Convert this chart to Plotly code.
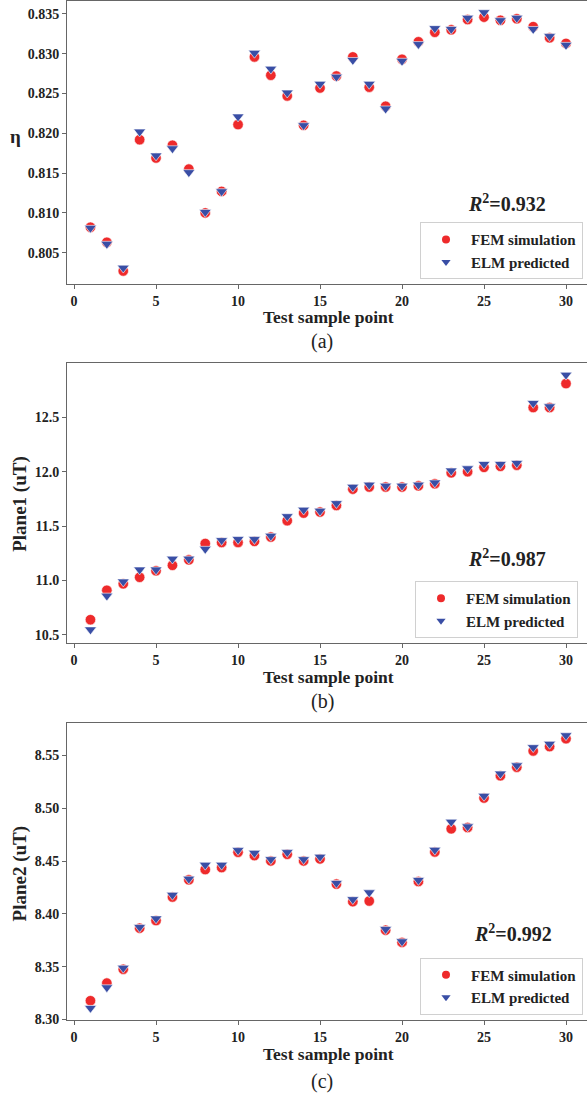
import plotly.graph_objects as go

# ---------------- data ----------------
sample = list(range(1, 31))

eta_fem = [0.8082, 0.8063, 0.8027, 0.8192, 0.8169, 0.8185, 0.8155, 0.8100, 0.8127, 0.8211,
           0.8296, 0.8273, 0.8247, 0.8210, 0.8257, 0.8272, 0.8296, 0.8258, 0.8234, 0.8293,
           0.8315, 0.8327, 0.8330, 0.8343, 0.8346, 0.8342, 0.8344, 0.8334, 0.8320, 0.8313]
eta_elm = [0.8081, 0.8061, 0.8031, 0.8202, 0.8172, 0.8181, 0.8151, 0.8101, 0.8127, 0.8221,
           0.8301, 0.8281, 0.8251, 0.8210, 0.8262, 0.8271, 0.8292, 0.8262, 0.8231, 0.8291,
           0.8312, 0.8332, 0.8331, 0.8345, 0.8352, 0.8342, 0.8345, 0.8331, 0.8322, 0.8311]

p1_fem = [10.64, 10.91, 10.97, 11.03, 11.09, 11.14, 11.19, 11.34, 11.35, 11.35,
          11.36, 11.40, 11.55, 11.62, 11.63, 11.69, 11.84, 11.86, 11.86, 11.86,
          11.87, 11.89, 11.99, 12.00, 12.04, 12.05, 12.06, 12.59, 12.59, 12.81]
p1_elm = [10.55, 10.86, 10.99, 11.10, 11.10, 11.20, 11.20, 11.29, 11.37, 11.38,
          11.38, 11.41, 11.59, 11.65, 11.64, 11.71, 11.86, 11.88, 11.87, 11.87,
          11.88, 11.90, 12.01, 12.03, 12.07, 12.07, 12.08, 12.63, 12.60, 12.89]

p2_fem = [8.3177, 8.3344, 8.3476, 8.3865, 8.3937, 8.4160, 8.4323, 8.4420, 8.4439, 8.4584,
          8.4552, 8.4502, 8.4565, 8.4502, 8.4521, 8.4282, 8.4116, 8.4122, 8.3846, 8.3730,
          8.4307, 8.4587, 8.4806, 8.4819, 8.5098, 8.5309, 8.5390, 8.5544, 8.5585, 8.5660]
p2_elm = [8.3108, 8.3303, 8.3488, 8.3874, 8.3956, 8.4179, 8.4332, 8.4464, 8.4464, 8.4603,
          8.4577, 8.4517, 8.4584, 8.4517, 8.4540, 8.4292, 8.4138, 8.4203, 8.3855, 8.3739,
          8.4320, 8.4606, 8.4872, 8.4828, 8.5117, 8.5328, 8.5406, 8.5578, 8.5610, 8.5691]

r2_values = ["0.932", "0.987", "0.992"]
y_titles = ["η", "Plane1 (uT)", "Plane2 (uT)"]
panel_labels = ["(a)", "(b)", "(c)"]
x_title = "Test sample point"
series_names = ["FEM simulation", "ELM predicted"]

x_ticks = [0, 5, 10, 15, 20, 25, 30]
eta_ticks = [0.805, 0.810, 0.815, 0.820, 0.825, 0.830, 0.835]
p1_ticks = [10.5, 11.0, 11.5, 12.0, 12.5]
p2_ticks = [8.30, 8.35, 8.40, 8.45, 8.50, 8.55]

# ---------------- layout geometry (pixels) ----------------
W, H = 587, 1103
RED = "#ee2a2b"
BLUE = "#394ea5"
FONT = "'Times New Roman', 'Liberation Serif', Times, serif"
AXC = "#666666"

panels = [
    dict(top=1, bottom=286, yr=[0.80104, 0.83663], fem=eta_fem, elm=eta_elm,
         ticks=eta_ticks, fmt="{:.3f}", xt=319, lab=344, yt_x=15, yt_y=137,
         r2=(507, 204), leg=(583, 281)),
    dict(top=365, bottom=647, yr=[10.427, 13.002], fem=p1_fem, elm=p1_elm,
         ticks=p1_ticks, fmt="{:.1f}", xt=681, lab=706, yt_x=20, yt_y=507,
         r2=(507, 562), leg=(578, 642)),
    dict(top=728, bottom=1027, yr=[8.299, 8.5805], fem=p2_fem, elm=p2_elm,
         ticks=p2_ticks, fmt="{:.2f}", xt=1061, lab=1088, yt_x=20, yt_y=879,
         r2=(513, 939), leg=(583, 1021)),
]

fig = go.Figure()
layout = dict(width=W, height=H, margin=dict(l=0, r=0, t=0, b=0),
              paper_bgcolor="white", plot_bgcolor="white", annotations=[],
              font=dict(family=FONT, color="#222"))

for i, p in enumerate(panels):
    n = "" if i == 0 else str(i + 1)
    xa, ya = "x" + n, "y" + n
    leg = "legend" + n
    # data traces
    fig.add_trace(go.Scatter(x=sample, y=p["fem"], mode="markers", name=series_names[0],
                             xaxis=xa, yaxis=ya, showlegend=False,
                             marker=dict(symbol="circle", size=10.5, color=RED,
                                         line=dict(color="white", width=0.6))))
    fig.add_trace(go.Scatter(x=sample, y=p["elm"], mode="markers", name=series_names[1],
                             xaxis=xa, yaxis=ya, showlegend=False,
                             marker=dict(symbol="triangle-down", size=10.5, color=BLUE,
                                         line=dict(color="white", width=0.6))))
    # legend entries (smaller legend glyphs)
    fig.add_trace(go.Scatter(x=[None], y=[None], mode="markers", name=series_names[0],
                             xaxis=xa, yaxis=ya, legend=leg,
                             marker=dict(symbol="circle", size=8, color=RED)))
    fig.add_trace(go.Scatter(x=[None], y=[None], mode="markers", name=series_names[1],
                             xaxis=xa, yaxis=ya, legend=leg,
                             marker=dict(symbol="triangle-down", size=8, color=BLUE)))

    layout["xaxis" + n] = dict(
        domain=[67 / W, 1], anchor=ya, range=[-0.43, 31.28],
        tickmode="array", tickvals=x_ticks, ticktext=[str(t) for t in x_ticks],
        showline=True, linecolor=AXC, linewidth=1, mirror=True,
        ticks="outside", ticklen=4, tickwidth=1, tickcolor=AXC,
        showgrid=False, zeroline=False,
        tickfont=dict(family=FONT, size=14, color="#222", weight="bold"))
    layout["yaxis" + n] = dict(
        domain=[1 - p["bottom"] / H, 1 - p["top"] / H], anchor=xa, range=p["yr"],
        tickmode="array", tickvals=p["ticks"], ticktext=[p["fmt"].format(t) for t in p["ticks"]],
        showline=True, linecolor=AXC, linewidth=1, mirror=False,
        ticks="outside", ticklen=4, tickwidth=1, tickcolor=AXC,
        showgrid=False, zeroline=False,
        tickfont=dict(family=FONT, size=14, color="#222", weight="bold"))
    layout[leg] = dict(
        x=p["leg"][0] / W, xanchor="right", y=1 - p["leg"][1] / H, yanchor="bottom",
        bgcolor="white", bordercolor="#d0d0d0", borderwidth=1,
        font=dict(family=FONT, size=15, color="#222", weight="bold"),
        itemsizing="trace", itemwidth=40)

    ann = layout["annotations"]
    ann.append(dict(text=x_title, xref="paper", yref="paper", x=328 / W, y=1 - p["xt"] / H,
                    xanchor="center", yanchor="middle", showarrow=False,
                    font=dict(family=FONT, size=17.5, color="#222", weight="bold")))
    ann.append(dict(text=panel_labels[i], xref="paper", yref="paper", x=322 / W, y=1 - p["lab"] / H,
                    xanchor="center", yanchor="middle", showarrow=False,
                    font=dict(family=FONT, size=20, color="#222")))
    ann.append(dict(text=y_titles[i], xref="paper", yref="paper", x=p["yt_x"] / W, y=1 - p["yt_y"] / H,
                    xanchor="center", yanchor="middle", showarrow=False,
                    textangle=0 if i == 0 else -90,
                    font=dict(family=FONT, size=19, color="#222", weight="bold")))
    ann.append(dict(text="<i>R</i><sup>2</sup>=" + r2_values[i], xref="paper", yref="paper",
                    x=p["r2"][0] / W, y=1 - p["r2"][1] / H,
                    xanchor="center", yanchor="middle", showarrow=False,
                    font=dict(family=FONT, size=20, color="#222", weight="bold")))

fig.update_layout(**layout)
fig.write_html("out.html")
